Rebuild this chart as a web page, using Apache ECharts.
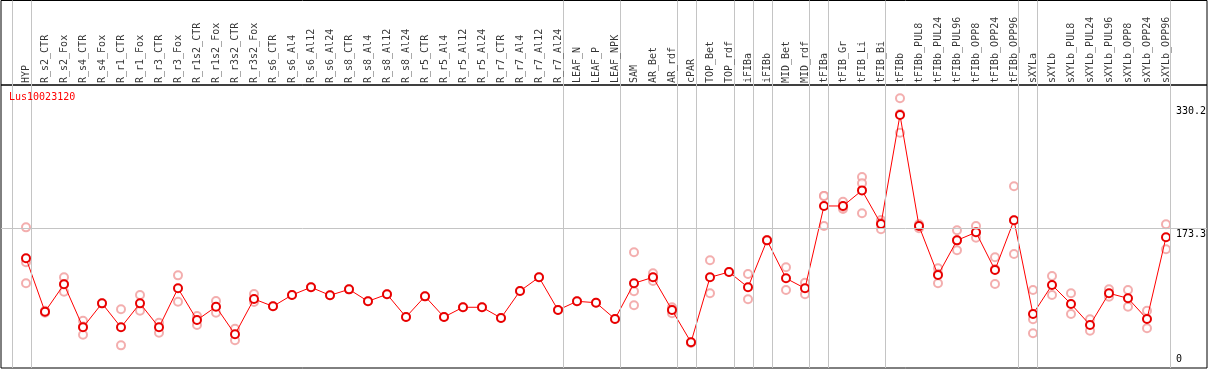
<!DOCTYPE html>
<html>
<head>
<meta charset="utf-8">
<script src="https://cdn.jsdelivr.net/npm/echarts@6/dist/echarts.min.js"></script>
<style>
html,body{margin:0;padding:0;background:#fff;}
#chart{width:1209px;height:370px;}
</style>
</head>
<body>
<div id="chart"></div>
<script>
const geneName = 'Lus10023120';

const categories = ['HYP','R_s2_CTR','R_s2_Fox','R_s4_CTR','R_s4_Fox','R_r1_CTR','R_r1_Fox','R_r3_CTR','R_r3_Fox',
  'R_r1s2_CTR','R_r1s2_Fox','R_r3s2_CTR','R_r3s2_Fox','R_s6_CTR','R_s6_Al4','R_s6_Al12','R_s6_Al24',
  'R_s8_CTR','R_s8_Al4','R_s8_Al12','R_s8_Al24','R_r5_CTR','R_r5_Al4','R_r5_Al12','R_r5_Al24',
  'R_r7_CTR','R_r7_Al4','R_r7_Al12','R_r7_Al24','LEAF_N','LEAF_P','LEAF_NPK','SAM','AR_Bet','AR_rdf',
  'cPAR','TOP_Bet','TOP_rdf','iFIBa','iFIBb','MID_Bet','MID_rdf','tFIBa','tFIB_Gr','tFIB_Li','tFIB_Bi',
  'tFIBb','tFIBb_PUL8','tFIBb_PUL24','tFIBb_PUL96','tFIBb_OPP8','tFIBb_OPP24','tFIBb_OPP96',
  'sXYLa','sXYLb','sXYLb_PUL8','sXYLb_PUL24','sXYLb_PUL96','sXYLb_OPP8','sXYLb_OPP24','sXYLb_OPP96'];

const means = [135.7,67.8,102.6,47.9,78.4,47.9,78.4,47.9,97.5,57.2,74.1,39.0,83.9,74.6,89.0,98.8,88.6,
  96.2,81.0,89.9,61.0,87.3,61.0,73.4,73.4,59.8,94.1,111.5,69.9,81.0,79.2,58.5,103.9,111.5,69.9,
  28.9,111.5,118.2,98.8,158.5,110.2,97.5,202.2,202.2,222.0,179.3,317.9,176.7,114.4,158.5,168.7,120.8,184.0,
  64.8,101.7,77.6,50.9,91.2,84.8,58.5,162.4];

const replicates = [
  [175,130.6,103.9],[66.5,68,69],[111.5,103,93.2],[56.3,49,38.5],[78.4],[70.8,25],[89,69],[53.8,41.1],
  [114,80.5],[62.3,50.9],[81.4,66.5],[46.2,31.4],[90.3,80.1],[74.6],[89.0],[98.8],[88.6],
  [96.2],[81.0],[89.9],[61.0],[87.3],[61.0],[73.4],[73.4],[59.8],[94.1],[111.5],[69.9],[81.0],[79.2],[58.5],
  [143.3,93.7,75.9],[116.6,111,106.8],[73.4,70.5,65.7],[28.9,28],[133.1,91.2],[118.2],[115.7,83.5],
  [158.5,159],[124.2,95.4],[104.6,89.9],[214.9,176.7,215],[207.6,198.3,201],[239,231,193],[184.4,181,172.5],
  [339.1,319,295.4],[176.7,173.8,179],[122.9,116,103.9],[171.3,158.5,145.8],[176.7,168,161.9],
  [136.9,122,103],[227.2,184,141.1],[95.4,58.1,40.3],[113.2,89],[91.2,64.8],[58.1,43.6],[96.2,86.8],
  [95.4,74.1],[69,46.7],[178.9,147.1]
];

// group boundaries: index of the last category of each group
const groupEnds = [-1,0,28,31,34,35,37,38,39,41,42,45,52,53,60];

// reference values labelled at the right (only the middle one has a visible line)
const refValues = [330.2, 173.3, 0];

const MONO = 'DejaVu Sans Mono';
const X_MIN = -1.316, X_MAX = 62.158;
const Y_MIN = -3.8, Y_MAX = 356.0;
const sepColor = '#c4c4c4';
const CHAR_W = 6.02;

const sepLines = groupEnds.map(g => ({ xAxis: g + 0.25 }));

const repData = [];
replicates.forEach((arr, i) => arr.forEach(v => repData.push([i, v])));

const chart = echarts.init(document.getElementById('chart'), null, { renderer: 'canvas' });
chart.setOption({
  animation: false,
  backgroundColor: '#fff',
  title: {
    text: geneName, left: 9, top: 92, padding: 0,
    textStyle: { color: '#ff0000', fontFamily: MONO, fontSize: 10, fontWeight: 'normal' }
  },
  grid: [
    { left: 1, right: 2, top: 0.5, height: 84.5, show: true, borderColor: '#000', borderWidth: 1, backgroundColor: 'transparent' },
    { left: 1, right: 2, top: 85, height: 283, show: true, borderColor: '#000', borderWidth: 1, backgroundColor: 'transparent' }
  ],
  xAxis: [
    { gridIndex: 0, type: 'value', min: X_MIN, max: X_MAX, show: false },
    { gridIndex: 1, type: 'value', min: X_MIN, max: X_MAX, show: false }
  ],
  yAxis: [
    { gridIndex: 0, type: 'value', min: 0, max: 1, show: false },
    { gridIndex: 1, type: 'value', min: Y_MIN, max: Y_MAX, show: false }
  ],
  series: [
    {
      type: 'scatter', xAxisIndex: 0, yAxisIndex: 0, silent: true, z: 5,
      data: categories.map((c, i) => [i, 0]),
      symbolSize: 2, itemStyle: { color: 'rgba(0,0,0,0)' },
      label: {
        show: true, rotate: 90, position: [1, -1], align: 'left', verticalAlign: 'middle',
        formatter: p => categories[p.dataIndex],
        fontFamily: MONO, fontSize: 10, color: '#000'
      },
      labelLayout: { hideOverlap: false },
      markLine: {
        silent: true, symbol: 'none', animation: false,
        label: { show: false },
        lineStyle: { color: sepColor, width: 1, type: 'solid' },
        data: sepLines
      }
    },
    {
      type: 'scatter', xAxisIndex: 1, yAxisIndex: 1, silent: true, z: 2,
      data: repData,
      symbol: 'emptyCircle', symbolSize: 8,
      itemStyle: { color: '#f09a9a', borderColor: '#ef9898', borderWidth: 1.3 },
      markLine: {
        silent: true, symbol: 'none', animation: false,
        label: { show: false },
        lineStyle: { color: sepColor, width: 1, type: 'solid' },
        data: sepLines.concat(refValues.map((v, k) => {
          const txt = String(v);
          return {
            yAxis: v,
            lineStyle: { color: k === 1 ? sepColor : 'rgba(0,0,0,0)', width: 1, type: 'solid' },
            label: {
              show: true, formatter: txt,
              position: k === 2 ? 'insideEndTop' : 'insideEndBottom',
              distance: [1 + (5 - txt.length) * CHAR_W, 1],
              fontFamily: MONO, fontSize: 10, color: '#000'
            }
          };
        }))
      }
    },
    {
      type: 'line', xAxisIndex: 1, yAxisIndex: 1, silent: true, z: 3,
      data: means.map((v, i) => [i, v]),
      symbol: 'emptyCircle', symbolSize: 8,
      lineStyle: { color: '#ff0000', width: 1 },
      itemStyle: { color: '#e80000', borderColor: '#e80000', borderWidth: 1.3 }
    }
  ]
});
</script>
</body>
</html>
